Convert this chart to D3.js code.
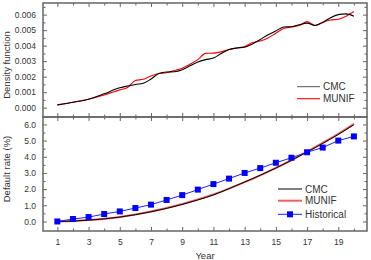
<!DOCTYPE html>
<html>
<head>
<meta charset="utf-8">
<script src="https://cdn.jsdelivr.net/npm/d3@7"></script>
<style>
  body { margin: 0; background: #fff; }
  text { font-family: "Liberation Sans", Arial, sans-serif; fill: #333; }
</style>
</head>
<body>
<svg id="chart" width="371" height="260"></svg>
<script>
// top panel: density function
const densYears = [1, 2, 3, 4, 5, 5.5, 6, 6.5, 7, 7.5, 8, 8.5, 9, 9.5, 10, 10.5, 11, 11.5, 12, 12.5,
  13, 13.5, 14, 14.5, 15, 15.5, 16, 16.5, 17, 17.5, 18, 18.5, 19, 19.5, 20];
const densCMC = [0.00018, 0.00035, 0.00055, 0.0009, 0.00128, 0.0014, 0.0015, 0.00157, 0.00185, 0.0022,
  0.0023, 0.00232, 0.00245, 0.0027, 0.00295, 0.0031, 0.0032, 0.0035, 0.00375, 0.00385,
  0.0039, 0.0041, 0.0044, 0.0047, 0.00495, 0.0052, 0.00522, 0.00535, 0.00545, 0.0053,
  0.0055, 0.0058, 0.006, 0.00605, 0.0059];
const densMUNIF = [0.00017, 0.00035, 0.00055, 0.00082, 0.00115, 0.0013, 0.00175, 0.00183, 0.00205, 0.0022,
  0.00225, 0.0024, 0.00255, 0.0028, 0.0031, 0.0035, 0.00352, 0.0036, 0.00375, 0.00385,
  0.00395, 0.0042, 0.0043, 0.0045, 0.0048, 0.0051, 0.0052, 0.0053, 0.00555, 0.0053,
  0.0055, 0.00565, 0.0057, 0.0059, 0.0062];

// bottom panel: default rate (%)
const years = d3.range(1, 21);
const rateCMC = [0.0, 0.02, 0.08, 0.16, 0.27, 0.42, 0.6, 0.81, 1.05, 1.33,
  1.64, 2.03, 2.44, 2.86, 3.3, 3.78, 4.29, 4.82, 5.38, 5.98];
const rateMUNIF = [0.0, 0.03, 0.09, 0.17, 0.28, 0.43, 0.62, 0.83, 1.08, 1.36,
  1.67, 2.03, 2.43, 2.85, 3.31, 3.8, 4.32, 4.86, 5.42, 6.04];
const rateHist = [0.0, 0.15, 0.27, 0.46, 0.62, 0.83, 1.04, 1.33, 1.63, 1.97,
  2.31, 2.65, 3.0, 3.3, 3.63, 3.94, 4.28, 4.57, 5.0, 5.26];

const xTicks = [1, 3, 5, 7, 9, 11, 13, 15, 17, 19];
const xMinor = [2, 4, 6, 8, 10, 12, 14, 16, 18, 20];
const densTicks = [0, 0.001, 0.002, 0.003, 0.004, 0.005, 0.006];
const densMinor = [0.0005, 0.0015, 0.0025, 0.0035, 0.0045, 0.0055, 0.0065];
const rateTicks = [0, 1, 2, 3, 4, 5, 6];
const rateMinor = [0.5, 1.5, 2.5, 3.5, 4.5, 5.5];

const svg = d3.select('#chart');
const L = 43, R = 367, T = 3, M = 117, B = 231;
const frame = '#666';

const x = d3.scaleLinear().domain([0.08, 20.84]).range([L, R]);
const yTop = d3.scaleLinear().domain([-0.0006, 0.00675]).range([M, T]);
const yBot = d3.scaleLinear().domain([-0.59, 6.46]).range([B, M]);

function drawAxis(g, axis) {
  g.call(axis);
  g.select('.domain').remove();
  g.selectAll('line').attr('stroke', frame).attr('stroke-width', 1);
  g.selectAll('text').attr('font-size', '8.5px').attr('fill', '#333')
    .attr('font-family', '"Liberation Sans", Arial, sans-serif');
}

// x axes
drawAxis(svg.append('g').attr('transform', `translate(0,${T})`),
  d3.axisTop(x).tickValues(xTicks).tickSize(-4).tickFormat(''));
drawAxis(svg.append('g').attr('transform', `translate(0,${T})`),
  d3.axisTop(x).tickValues(xMinor).tickSize(-2.5).tickFormat(''));
// shared middle line: ticks both ways
drawAxis(svg.append('g').attr('transform', `translate(0,${M})`),
  d3.axisBottom(x).tickValues(xTicks).tickSize(-4).tickFormat(''));
drawAxis(svg.append('g').attr('transform', `translate(0,${M})`),
  d3.axisBottom(x).tickValues(xMinor).tickSize(-2.5).tickFormat(''));
drawAxis(svg.append('g').attr('transform', `translate(0,${M})`),
  d3.axisTop(x).tickValues(xTicks).tickSize(-4).tickFormat(''));
drawAxis(svg.append('g').attr('transform', `translate(0,${M})`),
  d3.axisTop(x).tickValues(xMinor).tickSize(-2.5).tickFormat(''));
const xb = svg.append('g').attr('transform', `translate(0,${B})`);
drawAxis(xb, d3.axisBottom(x).tickValues(xTicks).tickSize(-4).tickPadding(8).tickFormat(d3.format('d')));
drawAxis(svg.append('g').attr('transform', `translate(0,${B})`),
  d3.axisBottom(x).tickValues(xMinor).tickSize(-2.5).tickFormat(''));

// y axes, top panel
drawAxis(svg.append('g').attr('transform', `translate(${L},0)`),
  d3.axisLeft(yTop).tickValues(densTicks).tickSize(-4).tickPadding(7).tickFormat(d3.format('.3f')));
drawAxis(svg.append('g').attr('transform', `translate(${L},0)`),
  d3.axisLeft(yTop).tickValues(densMinor).tickSize(-2.5).tickFormat(''));
drawAxis(svg.append('g').attr('transform', `translate(${R},0)`),
  d3.axisRight(yTop).tickValues(densTicks).tickSize(-4).tickFormat(''));
drawAxis(svg.append('g').attr('transform', `translate(${R},0)`),
  d3.axisRight(yTop).tickValues(densMinor).tickSize(-2.5).tickFormat(''));

// y axes, bottom panel
drawAxis(svg.append('g').attr('transform', `translate(${L},0)`),
  d3.axisLeft(yBot).tickValues(rateTicks).tickSize(-4).tickPadding(7).tickFormat(d3.format('.1f')));
drawAxis(svg.append('g').attr('transform', `translate(${L},0)`),
  d3.axisLeft(yBot).tickValues(rateMinor).tickSize(-2.5).tickFormat(''));
drawAxis(svg.append('g').attr('transform', `translate(${R},0)`),
  d3.axisRight(yBot).tickValues(rateTicks).tickSize(-4).tickFormat(''));
drawAxis(svg.append('g').attr('transform', `translate(${R},0)`),
  d3.axisRight(yBot).tickValues(rateMinor).tickSize(-2.5).tickFormat(''));

// frames
svg.append('rect').attr('x', L).attr('y', T).attr('width', R - L).attr('height', M - T)
  .attr('fill', 'none').attr('stroke', frame).attr('stroke-width', 1.5);
svg.append('rect').attr('x', L).attr('y', M).attr('width', R - L).attr('height', B - M)
  .attr('fill', 'none').attr('stroke', frame).attr('stroke-width', 1.5);

// top curves
const lineTop = d3.line().x(d => x(d[0])).y(d => yTop(d[1])).curve(d3.curveMonotoneX);
svg.append('path').datum(d3.zip(densYears, densMUNIF)).attr('d', lineTop)
  .attr('fill', 'none').attr('stroke', '#ff0000').attr('stroke-width', 1.1);
svg.append('path').datum(d3.zip(densYears, densCMC)).attr('d', lineTop)
  .attr('fill', 'none').attr('stroke', '#000').attr('stroke-width', 1.1);

// bottom curves
const lineBot = d3.line().x(d => x(d[0])).y(d => yBot(d[1])).curve(d3.curveMonotoneX);
svg.append('path').datum(d3.zip(years, rateMUNIF)).attr('d', lineBot)
  .attr('fill', 'none').attr('stroke', '#f06060').attr('stroke-width', 2);
svg.append('path').datum(d3.zip(years, rateCMC)).attr('d', lineBot)
  .attr('fill', 'none').attr('stroke', '#000').attr('stroke-width', 1);
svg.append('path').datum(d3.zip(years, rateHist)).attr('d', d3.line().x(d => x(d[0])).y(d => yBot(d[1])))
  .attr('fill', 'none').attr('stroke', '#2020ff').attr('stroke-width', 1);
svg.append('g').selectAll('rect').data(d3.zip(years, rateHist)).join('rect')
  .attr('x', d => x(d[0]) - 3).attr('y', d => yBot(d[1]) - 3)
  .attr('width', 6).attr('height', 6).attr('fill', '#0000ff');

// legends
const legTop = [['CMC', '#555', 1, 86.7], ['MUNIF', '#ff0000', 1.1, 98.7]];
legTop.forEach(([name, c, w, yy]) => {
  svg.append('line').attr('x1', 297).attr('x2', 320).attr('y1', yy).attr('y2', yy)
    .attr('stroke', c).attr('stroke-width', w);
  svg.append('text').attr('x', 323).attr('y', yy + 3.5).attr('font-size', '10px').text(name);
});
const legBot = [['CMC', '#000', 1, 189], ['MUNIF', '#f06060', 2, 200.7], ['Historical', '#2020ff', 1, 214.3]];
legBot.forEach(([name, c, w, yy]) => {
  svg.append('line').attr('x1', 278).attr('x2', 302).attr('y1', yy).attr('y2', yy)
    .attr('stroke', c).attr('stroke-width', w);
  svg.append('text').attr('x', 305).attr('y', yy + 3.5).attr('font-size', '10px').text(name);
});
svg.append('rect').attr('x', 287).attr('y', 214.3 - 3).attr('width', 6).attr('height', 6).attr('fill', '#0000ff');

// axis titles
svg.append('text').attr('transform', 'translate(10,65) rotate(-90)')
  .attr('text-anchor', 'middle').attr('font-size', '9.5px').text('Density function');
svg.append('text').attr('transform', 'translate(10,169) rotate(-90)')
  .attr('text-anchor', 'middle').attr('font-size', '9.5px').text('Default rate (%)');
svg.append('text').attr('x', 205).attr('y', 259).attr('text-anchor', 'middle')
  .attr('font-size', '9.5px').text('Year');
</script>
</body>
</html>
